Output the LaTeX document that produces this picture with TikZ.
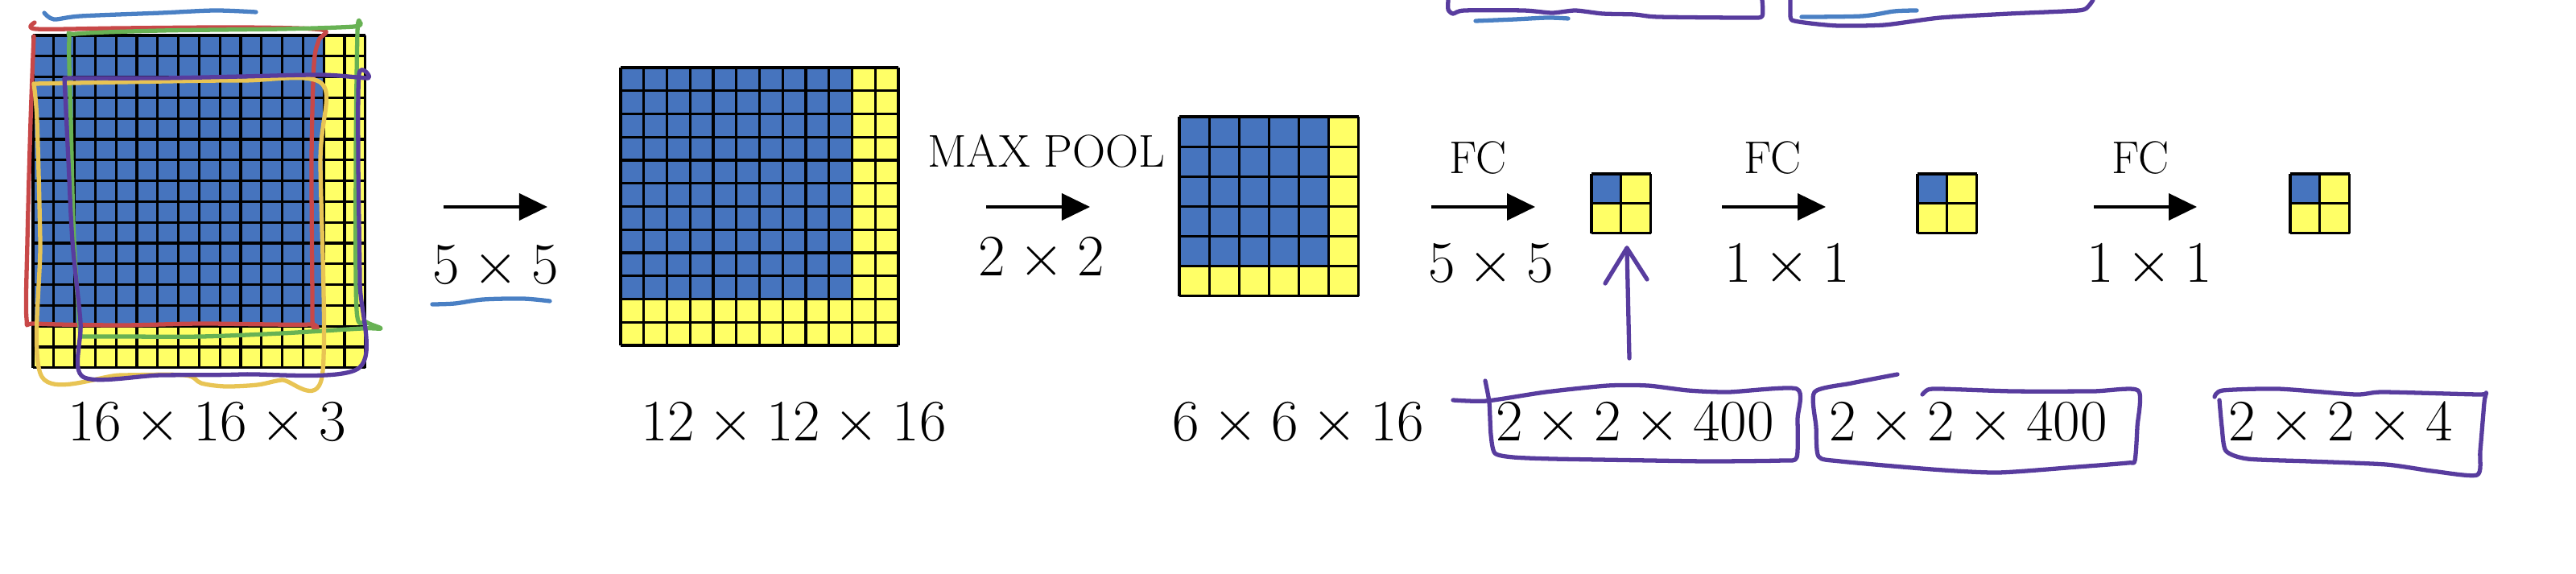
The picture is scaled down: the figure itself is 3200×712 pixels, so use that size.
\documentclass[tikz,border=0pt]{standalone}
\usepackage{amsmath}
\usetikzlibrary{arrows.meta}

\definecolor{mapblue}{RGB}{70,116,190}
\definecolor{mapyellow}{RGB}{255,255,102}
\definecolor{inkpurple}{RGB}{88,60,158}
\definecolor{inkred}{RGB}{200,72,72}
\definecolor{inkgreen}{RGB}{104,178,84}
\definecolor{inkgold}{RGB}{232,196,84}
\definecolor{inkblue}{RGB}{74,128,196}

% #1,#2 top-left corner, #3 cell size, #4 cells per side, #5 blue cells per side
\newcommand{\featmap}[5]{%
	\fill[mapyellow] (#1,#2) rectangle ++({#4*#3},{#4*#3});
	\fill[mapblue] (#1,#2) rectangle ++({#5*#3},{#5*#3});
	\foreach \i in {0, ..., #4} {
			\draw[cellline] ({#1+\i*#3},#2) -- ++(0,{#4*#3});
			\draw[cellline] (#1,{#2+\i*#3}) -- ++({#4*#3},0);
		}
}

\begin{document}
\begin{tikzpicture}[
		x=0.01cm, y=-0.01cm,
		cellline/.style={draw=black, line width=0.9pt},
		flow/.style={line width=1.1pt, -{Triangle[length=0.35cm, width=0.33cm]}},
		dims/.style={anchor=base, inner sep=0pt, font=\fontsize{20.74}{25}\selectfont},
		oplabel/.style={anchor=base, inner sep=0pt, font=\fontsize{16.2}{19}\selectfont},
		ink/.style={line width=1.5pt, line cap=round, line join=round}
	]

	\useasboundingbox (0,0) rectangle (3200,712);

	% feature maps
	\featmap{41}{44}{25.8}{16}{14}
	\featmap{771}{84}{28.75}{12}{10}
	\featmap{1465}{145}{37.1}{6}{5}
	\featmap{1977}{216}{36.8}{2}{1}
	\featmap{2382}{216}{36.8}{2}{1}
	\featmap{2845}{216}{36.8}{2}{1}

	% arrows between the maps
	\foreach \n/\xa/\xb in {conv/551/680, pool/1225/1354, fc1/1778/1907, fc2/2139/2268, fc3/2601/2729} {
			\coordinate (\n-s) at (\xa,257);
			\coordinate (\n-e) at (\xb,257);
			\draw[flow] (\n-s) -- (\n-e);
		}

	% operation labels
	\node[dims] (conv-size) at (616,352) {$5 \times 5$};
	\node[oplabel] (pool-name) at (1300,207) {MAX POOL};
	\node[dims] (pool-size) at (1294,342) {$2 \times 2$};
	\node[oplabel] (fc1-name) at (1836,215) {FC};
	\node[dims] (fc1-size) at (1852,350) {$5 \times 5$};
	\node[oplabel] (fc2-name) at (2202,215) {FC};
	\node[dims] (fc2-size) at (2220,350) {$1 \times 1$};
	\node[oplabel] (fc3-name) at (2659,215) {FC};
	\node[dims] (fc3-size) at (2670,350) {$1 \times 1$};

	% volume sizes
	\node[dims] (in-dim) at (257,547) {$16 \times 16 \times 3$};
	\node[dims] (conv-dim) at (986,547) {$12 \times 12 \times 16$};
	\node[dims] (pool-dim) at (1613,547) {$6 \times 6 \times 16$};
	\node[dims] (fc1-dim) at (2031,547) {$2 \times 2 \times 400$};
	\node[dims] (fc2-dim) at (2445,547) {$2 \times 2 \times 400$};
	\node[dims] (fc3-dim) at (2908,547) {$2 \times 2 \times 4$};

	% hand-drawn marks on the input
	\draw[ink, inkblue] plot[smooth, tension=0.5] coordinates {(55,16) (67,24) (100,20) (200,16) (267,13) (318,15)};
	\draw[ink, inkred] plot[smooth, tension=0.5] coordinates {(43,28) (45,36) (150,35) (300,34) (400,37) (396,50) (390,80) (387,200) (388,395) (385,403) (250,402) (150,404) (45,402) (33,396) (34,300) (38,150) (42,45)};
	\draw[ink, inkgreen] plot[smooth, tension=0.5] coordinates {(100,418) (92,300) (88,150) (86,50) (95,42) (200,38) (350,36) (440,33) (447,28) (444,40) (442,200) (443,385) (455,400) (473,408) (450,408) (350,414) (250,418) (150,418) (100,418)};
	\draw[ink, inkgold] plot[smooth, tension=0.5] coordinates {(42,104) (150,102) (300,100) (400,104) (398,200) (400,468) (350,472) (320,478) (280,480) (250,476) (230,466) (150,466) (52,468) (50,300) (46,150) (42,104)};
	\draw[ink, inkpurple] plot[smooth, tension=0.5] coordinates {(80,97) (200,97) (300,95) (400,93) (457,97) (446,92) (445,200) (447,350) (446,457) (300,465) (200,466) (103,468) (100,400) (90,300) (85,200) (80,97)};
	\draw[ink, inkblue] plot[smooth, tension=0.5] coordinates {(537,378) (565,377) (600,372) (650,371) (683,374)};

	% hand-drawn marks at the top
	\draw[ink, inkpurple] plot[smooth, tension=0.4] coordinates {(1799,0) (1799,12) (1805,17) (1819,13) (1893,13) (1928,16) (1957,13) (1991,17) (2031,18) (2060,21) (2172,22) (2189,20) (2189,0)};
	\draw[ink, inkblue] plot[smooth, tension=0.5] coordinates {(1833,26) (1882,24) (1922,22) (1948,23)};
	\draw[ink, inkpurple] plot[smooth, tension=0.4] coordinates {(2224,0) (2224,15) (2226,25) (2249,29) (2284,32) (2341,31) (2410,22) (2496,17) (2582,13) (2594,8) (2600,0)};
	\draw[ink, inkblue] plot[smooth, tension=0.5] coordinates {(2238,21) (2313,20) (2353,14) (2381,13)};

	% hand-drawn boxes round the sizes
	\draw[ink, inkpurple] plot[smooth, tension=0.4] coordinates {(1805,497) (1847,498) (1920,487) (1997,479) (2047,479) (2097,485) (2147,487) (2232,483) (2233,520) (2232,568) (2214,572) (2125,573) (2050,572) (1929,570) (1880,568) (1857,563) (1852,540) (1850,500) (1845,473)};
	\draw[ink, inkpurple] plot[smooth, tension=0.4] coordinates {(2357,465) (2300,476) (2254,487) (2256,530) (2259,567) (2286,573) (2400,583) (2482,587) (2580,580) (2643,575) (2652,572) (2655,530) (2656,485) (2600,486) (2500,486) (2411,483) (2395,484) (2388,490)};
	\draw[ink, inkpurple] plot[smooth, tension=0.4] coordinates {(2751,493) (2761,485) (2830,483) (2926,490) (2960,487) (3079,490) (3088,488) (3086,500) (3081,560) (3077,590) (3021,585) (2964,577) (2868,573) (2792,570) (2765,560) (2760,530) (2757,497)};

	% hand-drawn pointer to the first FC output
	\coordinate (mark-tail) at (2024,445);
	\coordinate (mark-tip) at (2021,308);
	\draw[ink, inkpurple] (mark-tail) -- (mark-tip);
	\draw[ink, inkpurple] (1994,352) -- (mark-tip) -- (2046,347);

\end{tikzpicture}
\end{document}
